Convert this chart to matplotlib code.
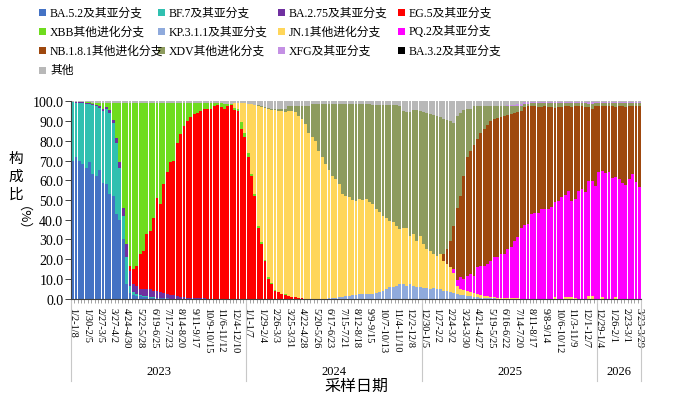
import matplotlib
matplotlib.use("Agg")
import matplotlib.pyplot as plt
import numpy as np
from matplotlib.patches import Rectangle
from matplotlib.transforms import blended_transform_factory

plt.rcParams["font.family"] = ["Liberation Serif", "Noto Sans CJK SC"]

# ---- data: weekly share (%) of each lineage, 2023-01-02 .. 2026-03-29 (169 weeks) ----
ba52 = ([70, 72, 70, 68, 66, 69, 63, 62, 65, 58.5, 58, 53, 52, 43, 40, 30, 7.4,
         3, 2, 1.5, 1.2, 1, 0.8, 0.6, 0.5, 0.4, 0.3, 0.2, 0.2, 0.1, 0.1]
        + [0.0] * 138)
bf7 = ([29.5, 27.3, 29.2, 31, 32.5, 29.5, 35, 35.5, 31.5, 36.5, 38, 41, 37, 36, 26, 12, 13.6,
        3.6, 1.2, 1, 0.7, 0.5, 0.4, 0.3, 0.2, 0.1]
       + [0.0] * 143)
ba275 = ([0.2, 0.3, 0.3, 0.4, 0.6, 0.5, 0.6, 0.7, 1, 1, 1, 1.5, 1.5, 2.5, 3.5, 4, 6.5,
          7.6, 4.2, 4, 3, 3.4, 3.7, 3.9, 3.3, 3.2, 3, 2.8, 2.3, 2, 1.7, 1.4, 1, 0.8, 0.6,
          0.5, 0.4, 0.3, 0.2, 0.2, 0.1, 0.1]
         + [0.0] * 127)
eg5 = ([0.0] * 17
       + [2.5, 7.6, 10.2, 17.7, 19.4, 27.9, 29.6, 37, 47.3, 44.7, 55, 61.5, 66.9, 68.2,
          77.6, 82.5, 86.9, 89.4, 91.5, 93.2, 93.7, 94.8, 95.8, 95.9, 96.2, 97.5, 98, 97,
          96.3, 97.5, 98,
          95.5, 95, 86, 82, 71.6, 62, 52, 36, 27.7, 19, 10, 7.4, 4, 3.2, 2.4, 2, 1.5, 1, 1,
          0.5, 0.3]
       + [0.0] * 100)
xbb = ([0.1, 0.2, 0.3, 0.4, 0.5, 0.5, 0.7, 1.1, 1.5, 3, 2, 3.5, 8.5, 17.5, 29.5, 53, 71.5,
        82.3, 84, 82.3, 76.4, 74.7, 66.2, 64.6, 58, 48, 51, 41, 35, 30, 29, 20, 15.5, 11.3,
        9, 7, 5.4, 5, 4, 3, 3, 2.7, 1.5, 1, 2, 2.2, 1.2, 0.8,
        1, 1, 3.5, 2, 2.4, 1, 1, 1, 0.8, 0.8, 0.8, 0.5, 0.4, 0.3, 0.2, 0.2]
       + [0.0] * 105)
kp311 = ([0.0] * 76
         + [0.3, 0.4, 0.5, 0.7, 1, 1.5, 1.5, 1.8, 2, 2.4, 2.4, 2.4, 2.4, 2.5, 2.7, 3.3, 4,
            4.8, 5.7, 6, 6.6, 7.4, 7.5,
            6.6, 7.4, 6.6, 6, 5.7, 5.2, 5.2, 4.9, 5.2, 4.9, 4.9, 4, 4, 3.2, 3, 2.5, 2, 1.8,
            1.5, 1.2, 1, 0.8, 0.6, 0.5, 0.4, 0.3, 0.2, 0.1, 0.1]
         + [0.0] * 41)
jn1 = ([0.0] * 48
       + [2.8, 3, 9.5, 15, 24.5, 35.5, 45, 60.5, 68.5, 76.7, 85.2, 87.6, 91, 91.7, 92.4,
          92.6, 93.8,
          94, 93.4, 92.2, 90.7, 88.5, 84, 81.7, 80, 75, 71.6, 68, 64.7, 61.6, 60.1, 57.3, 52,
          50.5, 49.8, 48.2, 47.7, 48.1, 47.6, 48.1, 46.4, 45.5, 42.7, 40.4, 38, 36.2, 33.8,
          32.7, 30.4, 27.9, 28.5,
          29.4, 24.6, 26.2, 23.4, 26.3, 22.5, 19.8, 19.4, 17.4, 16.9, 17.7, 15, 13.6, 12.7, 10,
          4, 3, 2.5, 2.2, 2, 1.8, 1.5, 1.2, 1, 0.8, 0.6, 0.5, 0.3, 0.2,
          0.2, 0.2, 0.2, 0.2, 0.2,
          0, 0, 0, 0, 0, 0, 0, 0, 0, 0, 1, 0, 0, 1, 1, 1, 0.5, 0, 0, 0, 1.5, 1.5, 0, 0, 0.7,
          0, 0, 0, 1, 0, 0, 0, 0, 0, 0, 0])
pq2 = ([0.0] * 113
       + [2, 3, 5.8, 5.7, 8, 9.3, 8.9, 13.6, 14.9, 15.2, 16.4, 18.4, 20.3, 20.6, 22.3, 22.4,
          24.8, 25.8, 29.2, 31.2, 36,
          37.5, 38, 43, 43.5, 43.5, 45.4, 45.4, 45.5, 46.5, 47.8, 49.5, 51.3, 51.5, 53.7, 48.7,
          50, 54.4, 55.6, 54, 58.3, 58, 57, 64, 63.8, 63.5, 64, 61, 60.5, 60.6, 58.4, 57.8,
          60.6, 63, 59, 56.8])
nb181 = ([0.0] * 110
         + [3.6, 7.4, 13.1, 22, 36.5, 41.2, 52, 60.3, 62.5, 66.3, 65.1, 67.3, 69.3, 70.4,
            70.7, 70, 70.5, 69.4, 69.9, 68, 67.5, 64.6, 63.1, 59,
            59.8, 59.5, 54.5, 54, 53.8, 51.9, 52.1, 51.8, 50.8, 47.6, 47.6, 46, 45, 42.8, 47.6,
            47, 43, 41.8, 43.2, 37.3, 36.5, 40.4, 33.6, 33.2, 34, 33.4, 36.5, 35.8, 36.8, 39,
            39.3, 36.8, 34.5, 38.4, 40.6])
xdv = ([0.0] * 55
       + [0.5, 0.5, 0.5, 0.5, 0.7, 0.8, 1, 1.2, 1.5, 2.2,
          2.5, 3.1, 4.8, 6.5, 9, 13.5, 16.8, 18.5, 23.5, 26.9, 30.5, 33.5, 36.5, 37.9, 40.5,
          45.5, 46.5, 47.2, 48.5, 48.8, 48, 48.5, 48, 49.7, 50, 52.6, 54.3, 56, 57, 58.5, 59.3,
          61, 62.2, 59,
          58.5, 62.5, 62.7, 66.1, 63, 66.8, 69, 69.2, 70.4, 70.9, 69.4, 68.4, 65.5, 61, 52,
          46.7, 42, 33.5, 24.3, 21.3, 19.5, 16.5, 13.5, 11.5, 9.5, 7.5, 6.5, 6, 5.5, 5, 4.5, 4,
          3.5, 3, 2.8,
          1.5, 1.3, 1.4, 1.4, 1.6, 1.6, 1.4, 1.6, 1.6, 2.5, 1.8, 1.6, 1.4, 1.4, 1.6, 1.4, 1.5,
          1.5, 1.7, 1.6, 2.7, 1.5, 1.3, 1.3, 1.4, 1.5, 1.4, 1.6, 1.5, 1.5, 1.8, 1.5, 1.4, 1.5,
          1.5])
xfg = ([0.0] * 128
       + [0.3, 0.5, 0.6, 0.8, 1, 1, 0.9, 0.9]
       + [0.8] * 18 + [1] + [0.8] * 14)
ba32 = [0.0] * 169
other = ([0.2, 0.2, 0.2, 0.2, 0.4, 0.5, 0.7, 0.7, 1, 1, 1, 1, 1, 1, 1, 1, 1]
         + [1.0] * 28 + [1.5, 1.3, 1.2]
         + [0.7, 1, 1, 1, 1.5, 1.5, 2, 2, 2.5, 3, 3.5, 3.8, 3.8, 3.8, 3.8, 3.7, 2.5]
         + [2.5] * 6 + [1.5] * 18 + [2.0] * 8 + [2.5]
         + [5, 5.5, 5.5, 4.5, 4.5, 5, 5.5, 6, 6.5, 7, 7.3, 8, 9, 9.5, 10, 11]
         + [7.3, 6, 4.5, 3.7, 3.7] + [2.5] * 9
         + [2.2, 2, 1.9, 1.7, 1.5, 1.2]
         + [0.3] * 19 + [0.5, 0.3, 0.3, 0.3, 0.2] + [0.3] * 11)

series_names = ["BA.5.2及其亚分支", "BF.7及其亚分支", "BA.2.75及其亚分支", "EG.5及其亚分支",
                "XBB其他进化分支", "KP.3.1.1及其亚分支", "JN.1其他进化分支", "PQ.2及其亚分支",
                "NB.1.8.1其他进化分支", "XDV其他进化分支", "XFG及其亚分支", "BA.3.2及其亚分支",
                "其他"]
series_colors = ["#4472C4", "#30C0B0", "#7030A0", "#FF0000", "#6FDC1E", "#8FAADC",
                 "#FFD65A", "#FF00FF", "#9E480E", "#8D9B5E", "#C490E4", "#000000", "#B8B8B8"]

tick_labels = ["1/2-1/8", "1/30-2/5", "2/27-3/5", "3/27-4/2", "4/24-4/30", "5/22-5/28",
               "6/19-6/25", "7/17-7/23", "8/14-8/20", "9/11-9/17", "10/9-10/15",
               "11/6-11/12", "12/4-12/10",
               "1/1-1/7", "1/29-2/4", "2/26-3/3", "3/25-3/31", "4/22-4/28", "5/20-5/26",
               "6/17-6/23", "7/15-7/21", "8/12-8/18", "9/9-9/15", "10/7-10/13",
               "11/4-11/10", "12/2-12/8",
               "12/30-1/5", "1/27-2/2", "2/24-3/2", "3/24-3/30", "4/21-4/27", "5/19-5/25",
               "6/16-6/22", "7/14-7/20", "8/11-8/17", "9/8-9/14", "10/6-10/12",
               "11/3-11/9", "12/1-12/7",
               "12/29-1/4", "1/26-2/1", "2/23-3/1", "3/23-3/29"]
years = ["2023", "2024", "2025", "2026"]
year_weeks = [52, 52, 52, 13]

series = [ba52, bf7, ba275, eg5, xbb, kp311, jn1, pq2, nb181, xdv, xfg, ba32, other]

# ---- figure ----
W, H = 693, 410
fig = plt.figure(figsize=(W / 100, H / 100), dpi=100)
ax = fig.add_axes([71 / W, 1 - 299.7 / H, 570 / W, 197.4 / H])

n_weeks = len(ba52)
x = np.arange(n_weeks)
bottom = np.zeros(n_weeks)
for vals, color in zip(series, series_colors):
    vals = np.asarray(vals, dtype=float)
    ax.bar(x, vals, bottom=bottom, width=0.85, color=color, linewidth=0)
    bottom += vals

ax.set_xlim(-0.5, n_weeks - 0.5)
ax.set_ylim(0, 100)

ax.set_yticks(np.arange(0, 101, 10))
ax.set_yticklabels([f"{v:.1f}" for v in np.arange(0, 101, 10)], fontsize=10)
ax.tick_params(axis="y", length=4, width=0.7, pad=1.5, color="#404040")

ax.set_xticks(np.arange(0, n_weeks, 4))
ax.set_xticklabels(tick_labels, rotation=-90, fontsize=7.5)
ax.tick_params(axis="x", which="major", length=0, pad=6)
ax.set_xticks(np.arange(-0.5, n_weeks, 1), minor=True)
ax.tick_params(axis="x", which="minor", length=3, width=0.5, color="#808080")

for side in ["top", "right"]:
    ax.spines[side].set_visible(False)
for side in ["left", "bottom"]:
    ax.spines[side].set_color("#404040")
    ax.spines[side].set_linewidth(0.8)

# multi-level year axis
trans = blended_transform_factory(ax.transData, ax.transAxes)
edges = np.concatenate([[0], np.cumsum(year_weeks)]) - 0.5
for e in edges:
    ax.plot([e, e], [0, -0.415], transform=trans, clip_on=False,
            color="#C8C8C8", lw=0.8)
for yr, a, b in zip(years, edges[:-1], edges[1:]):
    ax.text((a + b) / 2, -0.365, yr, transform=trans, ha="center", va="center",
            fontsize=9)

fig.text(356 / W, 1 - 386 / H, "采样日期", fontsize=11.5, family="Noto Sans CJK SC",
         ha="center", va="center")

# vertical y label
for ch, yy in zip("构成比", [159, 177, 195]):
    fig.text(16 / W, 1 - yy / H, ch, fontsize=10.5, family="Noto Sans CJK SC",
             ha="center", va="center")
fig.text(16 / W, 1 - 225 / H, "（%）", fontsize=9.5, family="Noto Sans CJK SC",
         rotation=270, ha="center", va="center")

# legend, 4 columns row by row
col_x = [39, 158, 278, 398]
row_y = [13.3, 32.3, 51.7, 71.0]
for i, (name, color) in enumerate(zip(series_names, series_colors)):
    cx = col_x[i % 4]
    cy = row_y[i // 4]
    fig.add_artist(Rectangle((cx / W, 1 - (cy + 3.5) / H), 7 / W, 7 / H,
                             transform=fig.transFigure, facecolor=color,
                             edgecolor="none"))
    fig.text((cx + 11) / W, 1 - cy / H, name, fontsize=8.5, ha="left", va="center")

fig.savefig("out.png", dpi=100)
